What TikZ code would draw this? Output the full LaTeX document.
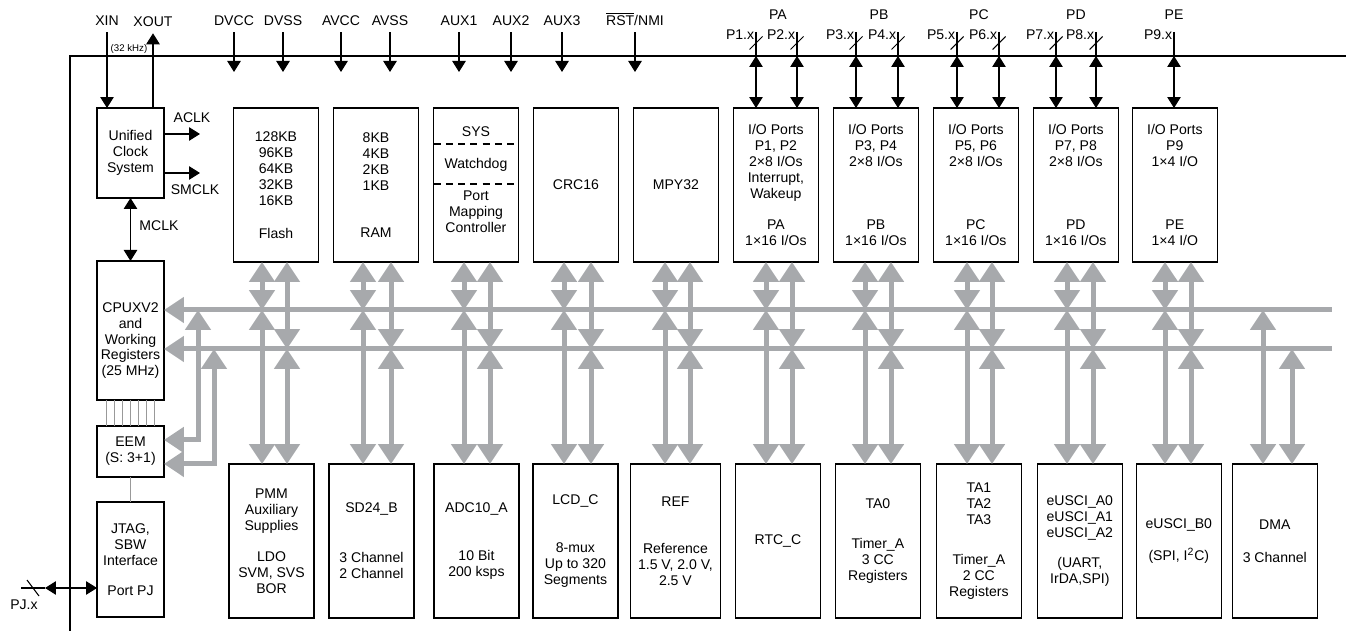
\documentclass[tikz,border=0pt]{standalone}
\usepackage{fontspec}
\setmainfont{Liberation Sans}
\usetikzlibrary{arrows.meta,positioning}
\definecolor{busgray}{RGB}{167,169,172}
\newcommand{\blkfont}{\fontsize{8}{9.07}\selectfont}
\newcommand{\khzfont}{\fontsize{5.5}{6}\selectfont}

\begin{document}
\begin{tikzpicture}[
    x=0.02cm, y=-0.02cm,
    >={Triangle[width=0.27cm, length=0.22cm]},
    blk/.style={draw, line width=0.9pt, fill=white, align=center,
                font=\blkfont, inner sep=1pt, outer sep=0pt},
    modblk/.style={blk, minimum width=1.7cm, minimum height=3.08cm},
    cpublk/.style={blk, minimum width=1.34cm},
    lbl/.style={font=\blkfont, inner sep=1pt},
    pinlbl/.style={font=\blkfont, inner sep=0pt, outer sep=4pt,
                   text height=6pt, text depth=0pt},
    sigarrow/.style={line width=0.6pt, ->},
    sigio/.style={line width=0.6pt, <->},
    sigline/.style={line width=0.6pt},
    busline/.style={draw=busgray, line width=0.1cm},
    busarrow/.style={busline, {Triangle[width=0.5cm, length=0.4cm]}-{Triangle[width=0.5cm, length=0.4cm]}},
    dbgline/.style={draw=gray!80, line width=0.4pt},
    frameline/.style={line width=1pt},
  ]
    \useasboundingbox (0,0) rectangle (1346,631);

    % device outline
    \coordinate (corner) at (70,56);
    \draw[frameline] (1346,56) -- (corner) -- (70,631);

    % clock, CPU and debug column
    \node[cpublk, minimum height=1.8cm] (ucs) at (130.5,153)
          {Unified\\Clock\\System};
    \node[cpublk, minimum height=2.78cm, below=1.26cm of ucs] (cpu)
          {\mbox{}\\[8pt]CPUXV2\\and\\Working\\Registers\\(25 MHz)};
    \node[cpublk, minimum height=1.02cm, below=0.52cm of cpu] (eem)
          {EEM\\(S: 3+1)};
    \node[cpublk, minimum height=2.3cm, below=0.5cm of eem] (jtag)
          {JTAG,\\SBW\\Interface\\[8pt]Port PJ};

    % top row of modules
    \node[modblk] (flash) at (276,185)
          {128KB\\96KB\\64KB\\32KB\\16KB\\[9.6pt]Flash};
    \node[modblk, right=0.3cm of flash] (ram) {8KB\\4KB\\2KB\\1KB\\[18pt]RAM};
    \node[modblk, right=0.3cm of ram] (sys) {};
    \node[modblk, right=0.3cm of sys] (crc) {CRC16};
    \node[modblk, right=0.3cm of crc] (mpy) {MPY32};
    \node[modblk, right=0.3cm of mpy] (pa)
          {I/O Ports\\P1, P2\\2×8 I/Os\\Interrupt,\\Wakeup\\[9pt]PA\\1×16 I/Os};
    \node[modblk, right=0.3cm of pa] (pb)
          {I/O Ports\\P3, P4\\2×8 I/Os\\[27pt]PB\\1×16 I/Os};
    \node[modblk, right=0.3cm of pb] (pc)
          {I/O Ports\\P5, P6\\2×8 I/Os\\[27pt]PC\\1×16 I/Os};
    \node[modblk, right=0.3cm of pc] (pd)
          {I/O Ports\\P7, P8\\2×8 I/Os\\[27pt]PD\\1×16 I/Os};
    \node[modblk, right=0.28cm of pd] (pe)
          {I/O Ports\\P9\\1×4 I/O\\[27pt]PE\\1×4 I/O};

    % SYS block sections
    \node[lbl] (syshdr) at ([yshift=-0.48cm]sys.north) {SYS};
    \node[lbl] (syswdt) at ([yshift=-1.14cm]sys.north) {Watchdog};
    \node[lbl, align=center] (syspmc) at ([yshift=-2.08cm]sys.north)
          {Port\\Mapping\\Controller};
    \draw[line width=0.6pt, dash pattern=on 4pt off 3pt]
          ([yshift=-0.72cm]sys.north west) -- ([yshift=-0.72cm]sys.north east);
    \draw[line width=0.6pt, dash pattern=on 4pt off 3pt]
          ([yshift=-1.52cm]sys.north west) -- ([yshift=-1.52cm]sys.north east);

    % bottom row of modules
    \node[modblk] (pmm) at (271.5,541)
          {PMM\\Auxiliary\\Supplies\\[8.5pt]LDO\\SVM, SVS\\BOR};
    \node[modblk, right=0.3cm of pmm] (sd) {SD24\_B\\[19.3pt]3 Channel\\2 Channel};
    \node[modblk, right=0.4cm of sd] (adc) {ADC10\_A\\[18pt]10 Bit\\200 ksps};
    \node[modblk, right=0.28cm of adc] (lcd)
          {LCD\_C\\[18.7pt]8-mux\\Up to 320\\Segments};
    \node[modblk, minimum width=1.8cm, right=0.25cm of lcd] (ref)
          {REF\\[18pt]Reference\\1.5 V, 2.0 V,\\2.5 V};
    \node[modblk, right=0.3cm of ref] (rtc) {RTC\_C};
    \node[modblk, right=0.3cm of rtc] (ta0)
          {TA0\\[13.6pt]Timer\_A\\3 CC\\Registers};
    \node[modblk, right=0.32cm of ta0] (ta1)
          {TA1\\TA2\\TA3\\[13.6pt]Timer\_A\\2 CC\\Registers};
    \node[modblk, right=0.32cm of ta1] (eusa)
          {eUSCI\_A0\\eUSCI\_A1\\eUSCI\_A2\\[8pt](UART,\\IrDA,SPI)};
    \node[modblk, right=0.28cm of eusa] (eusb)
          {eUSCI\_B0\\[9.6pt](SPI, I\textsuperscript{2}C)};
    \node[modblk, right=0.22cm of eusb] (dma) {DMA\\[9.6pt]3 Channel};

    % supply and control pins
    \coordinate (pintip) at (0,72);
    \foreach \nm/\px/\txt in {dvcc/234/DVCC, dvss/283/DVSS, avcc/341/AVCC,
        avss/390/AVSS, auxa/459/AUX1, auxb/511/AUX2, auxc/562/AUX3,
        rst/635/{$\overline{\mbox{RST}}$/NMI}} {
      \node[pinlbl] (\nm) at (\px,20) {\txt};
      \draw[sigarrow] (\nm.south) -- (\nm.south |- pintip);
    }

    % crystal and clocks
    \node[pinlbl] (xin) at (107,20) {XIN};
    \node[pinlbl] (xout) at (153,21) {XOUT};
    \node[font=\khzfont, inner sep=0pt] (khz) at (129,49) {(32 kHz)};
    \draw[sigarrow] (xin.south) -- (xin.south |- ucs.north);
    \draw[sigarrow] (xout.south |- ucs.north) -- (xout.south);
    \coordinate (aclk) at (200,134);
    \coordinate (smclk) at (200,173);
    \draw[sigarrow] (ucs.east |- aclk) -- (aclk);
    \draw[sigarrow] (ucs.east |- smclk) -- (smclk);
    \node[lbl] (aclklbl) at (192,118) {ACLK};
    \node[lbl] (smclklbl) at (195,190) {SMCLK};
    \draw[sigio] (ucs.south) -- (cpu.north);
    \node[lbl] (mclklbl) at (159,226) {MCLK};

    % port pins
    \foreach \n/\b/\px in {1/pa/756, 2/pa/797, 3/pb/856, 4/pb/898, 5/pc/957,
        6/pc/999, 7/pd/1056, 8/pd/1096, 9/pe/1174} {
      \coordinate (pin\n) at (\px,32);
      \node[lbl, anchor=east, inner sep=0pt] (plbl\n) at (\px-1.5,35) {P\n.x};
      \draw[sigline] (pin\n) -- (pin\n |- corner);
      \draw[sigio] (pin\n |- corner) -- (pin\n |- \b.north);
    }
    \foreach \px in {756,797,856,898,957,999,1056,1096} {
      \coordinate (cut) at (\px,43);
      \draw[sigline] ([shift={(-6.5,6.5)}]cut) -- ([shift={(6.5,-6.5)}]cut);
    }
    \foreach \nm/\px/\txt in {pagrp/778/PA, pbgrp/879/PB, pcgrp/979/PC,
        pdgrp/1076/PD, pegrp/1174/PE}
      \node[lbl] (\nm) at (\px,15) {\txt};

    % JTAG port
    \coordinate (pjtip) at (45,588);
    \coordinate (pjend) at (21,588);
    \coordinate (pjcut) at (33,588);
    \draw[sigio] (pjtip) -- (pjtip -| jtag.west);
    \draw[sigline] (pjend) -- (pjtip);
    \draw[sigline] ([shift={(-6,-8)}]pjcut) -- ([shift={(6,8)}]pjcut);
    \node[lbl] (pjlbl) at (24,605) {PJ.x};

    % debug links
    \foreach \dx in {-0.48,-0.32,-0.16,0,0.16,0.32,0.48}
      \draw[dbgline] ([xshift=\dx cm]cpu.south) -- ([xshift=\dx cm]eem.north);
    \draw[dbgline] (eem.south) -- (jtag.north);

    % memory / peripheral bus
    \coordinate (busu) at (1332,310);
    \coordinate (busl) at (1332,349);
    \draw[busline, {Triangle[width=0.5cm, length=0.4cm]}-] (cpu.east |- busu) -- (busu);
    \draw[busline, {Triangle[width=0.5cm, length=0.4cm]}-] (cpu.east |- busl) -- (busl);
    \coordinate (dbga) at (198,0);
    \coordinate (dbgb) at (214,0);
    \draw[busarrow] ([yshift=0.23cm]eem.east) -| (dbga |- busu);
    \draw[busarrow] ([yshift=-0.25cm]eem.east) -| (dbgb |- busl);

    \foreach \t/\b/\xl/\xr in {flash/pmm/262/287, ram/sd/363/391,
        sys/adc/464/490, crc/lcd/564/591, mpy/ref/665/690, pa/rtc/766/792,
        pb/ta0/865/891, pc/ta1/967/992, pd/eusa/1067/1093, pe/eusb/1165/1191} {
      \coordinate (cl) at (\xl,0);
      \coordinate (cr) at (\xr,0);
      \draw[busarrow] (\t.south -| cl) -- (cl |- busu);
      \draw[busarrow] (\t.south -| cr) -- (cr |- busl);
      \draw[busarrow] (cl |- busu) -- (\b.north -| cl);
      \draw[busarrow] (cr |- busl) -- (\b.north -| cr);
    }
    \coordinate (cl) at (1263,0);
    \coordinate (cr) at (1292,0);
    \draw[busarrow] (cl |- busu) -- (dma.north -| cl);
    \draw[busarrow] (cr |- busl) -- (dma.north -| cr);
  \end{tikzpicture}
\end{document}
